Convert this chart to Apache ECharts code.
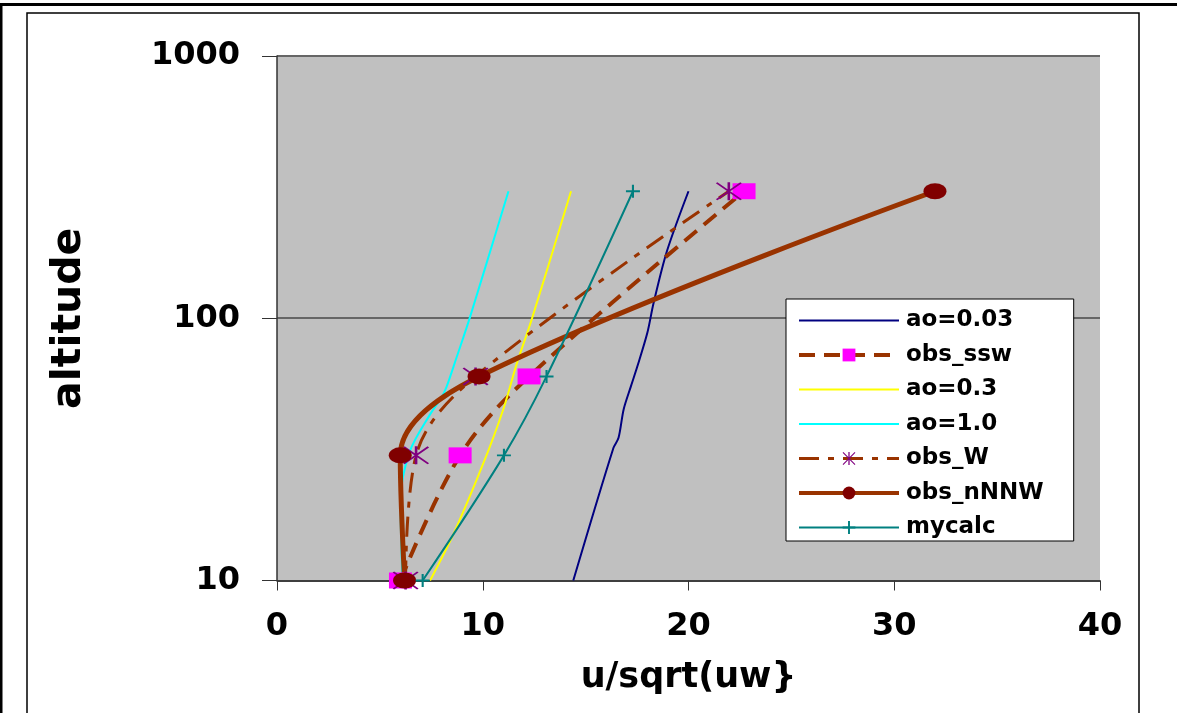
<!DOCTYPE html>
<html>
<head>
<meta charset="utf-8">
<title>altitude vs u/sqrt(uw)</title>
<script src="https://cdn.jsdelivr.net/npm/echarts@6/dist/echarts.min.js"></script>
<style>
  html, body { margin: 0; padding: 0; background: #fff; }
  #main { width: 1177px; height: 713px; }
</style>
</head>
<body>
<div id="main"></div>
<script>
// x axis ticks
var xTicks = [0, 10, 20, 30, 40];

// observation levels (altitude)
var obsAlt = [10, 30, 60, 305];
var obsSsw = [6.0, 8.9, 12.25, 22.7];
var obsW = [6.25, 6.76, 9.65, 21.96];
var obsNNNW = [6.2, 5.99, 9.82, 31.98];
var mycalc = [7.08, 11.03, 13.1, 17.3];

// model curves
var altA003 = [10, 32, 35, 45, 55, 65, 88, 114, 180, 305];
var a003 = [14.4, 16.35, 16.6, 16.85, 17.2, 17.5, 18.0, 18.3, 18.95, 20.0];
var altA03 = [10, 15, 28, 45, 67, 99, 305];
var a03 = [7.44, 8.57, 10.03, 11.0, 11.65, 12.38, 14.29];
var altA10 = [10, 20, 31, 43, 50, 55, 71, 101, 305];
var a10 = [6.1, 6.0, 6.45, 7.44, 8.0, 8.25, 8.73, 9.38, 11.25];

function pairs(xs, ys) {
  return xs.map(function (x, i) { return [x, ys[i]]; });
}

var FONT = 'DejaVu Sans';
var BROWN = '#993300';
// asterisk and plus markers
var STAR = 'path://M9,0H11V20H9Z M0,1.2L1.2,0L20,18.8L18.8,20Z M18.8,0L20,1.2L1.2,20L0,18.8Z';
var PLUS = 'path://M8.5,0H11.5V20H8.5Z M0,8.5H20V11.5H0Z';

var myChart = echarts.init(document.getElementById('main'));
var option = {
  animation: false,
  backgroundColor: '#fff',
  graphic: [
    { type: 'line', shape: { x1: 0, y1: 4.5, x2: 1177, y2: 4.5 }, style: { stroke: '#000', lineWidth: 3 } },
    { type: 'line', shape: { x1: 1, y1: 3, x2: 1, y2: 713 }, style: { stroke: '#000', lineWidth: 3 } },
    { type: 'rect', shape: { x: 27, y: 13, width: 1112, height: 720 }, style: { fill: 'none', stroke: '#000', lineWidth: 1.5 } }
  ],
  grid: {
    left: 277, top: 56, width: 823, height: 524.5,
    show: true, backgroundColor: '#C0C0C0', borderWidth: 0
  },
  legend: {
    orient: 'vertical', left: 786, top: 299,
    padding: [10, 30, 2, 11],
    itemWidth: 100, itemHeight: 16, itemGap: 11.5,
    backgroundColor: '#fff', borderColor: '#000', borderWidth: 1,
    selectedMode: false,
    textStyle: { fontFamily: FONT, fontWeight: 'bold', fontSize: 23, color: '#000', lineHeight: 20, padding: [0, 0, 0, 2] },
    data: [
      { name: 'ao=0.03', itemStyle: { opacity: 0 } },
      { name: 'obs_ssw', lineStyle: { width: 4 } },
      { name: 'ao=0.3', itemStyle: { opacity: 0 } },
      { name: 'ao=1.0', itemStyle: { opacity: 0 } },
      { name: 'obs_W', lineStyle: { width: 3 } },
      { name: 'obs_nNNW', lineStyle: { width: 4 } },
      { name: 'mycalc' }
    ]
  },
  xAxis: {
    type: 'value', min: xTicks[0], max: xTicks[xTicks.length - 1], interval: 10,
    name: 'u/sqrt(uw}', nameLocation: 'middle', nameGap: 80,
    nameTextStyle: { fontFamily: FONT, fontWeight: 'bold', fontSize: 35, color: '#000' },
    axisLine: { show: true, onZero: false, lineStyle: { color: '#333', width: 1.5 } },
    axisTick: { show: true, length: 10, lineStyle: { color: '#333' } },
    axisLabel: { margin: 30, fontFamily: FONT, fontWeight: 'bold', fontSize: 32, color: '#000' },
    splitLine: { show: false }
  },
  yAxis: {
    type: 'log', logBase: 10, min: 10, max: 1000,
    name: 'altitude', nameLocation: 'middle', nameGap: 187,
    nameTextStyle: { fontFamily: FONT, fontWeight: 'bold', fontSize: 41, color: '#000' },
    axisLine: { show: true, onZero: false, lineStyle: { color: '#333', width: 1.5 } },
    axisTick: { show: true, length: 15, lineStyle: { color: '#333' } },
    axisLabel: {
      margin: 37, fontFamily: FONT, fontWeight: 'bold', fontSize: 32, color: '#000',
      formatter: function (v) { return String(v); }
    },
    splitLine: { show: true, lineStyle: { color: '#666', width: 2 } },
    minorTick: { show: false }
  },
  series: [
    {
      name: 'ao=0.03', type: 'line', data: pairs(a003, altA003),
      symbol: 'none', smooth: 0.3, color: '#000080',
      lineStyle: { color: '#000080', width: 2 }
    },
    {
      name: 'obs_ssw', type: 'line', data: pairs(obsSsw, obsAlt),
      smooth: 0.35, symbol: 'rect', symbolSize: [23, 16],
      itemStyle: { color: '#FF00FF' },
      lineStyle: { color: BROWN, width: 4, type: [16, 9] }
    },
    {
      name: 'ao=0.3', type: 'line', data: pairs(a03, altA03),
      symbol: 'none', smooth: 0.3, color: '#FFFF00',
      lineStyle: { color: '#FFFF00', width: 2 }
    },
    {
      name: 'ao=1.0', type: 'line', data: pairs(a10, altA10),
      symbol: 'none', smooth: 0.3, color: '#00FFFF',
      lineStyle: { color: '#00FFFF', width: 2 }
    },
    {
      name: 'obs_W', type: 'line', data: pairs(obsW, obsAlt),
      smooth: 0.35, symbol: STAR, symbolSize: [26, 18],
      itemStyle: { color: '#800080' },
      lineStyle: { color: BROWN, width: 3, type: [20, 9, 6, 9] }
    },
    {
      name: 'obs_nNNW', type: 'line', data: pairs(obsNNNW, obsAlt),
      smooth: 0.35, symbol: 'circle', symbolSize: [23, 16],
      itemStyle: { color: '#800000' },
      lineStyle: { color: BROWN, width: 5 }
    },
    {
      name: 'mycalc', type: 'line', data: pairs(mycalc, obsAlt),
      smooth: 0.35, symbol: PLUS, symbolSize: [14, 13],
      itemStyle: { color: '#008080' },
      lineStyle: { color: '#008080', width: 2 }
    }
  ]
};
myChart.setOption(option);
</script>
</body>
</html>
